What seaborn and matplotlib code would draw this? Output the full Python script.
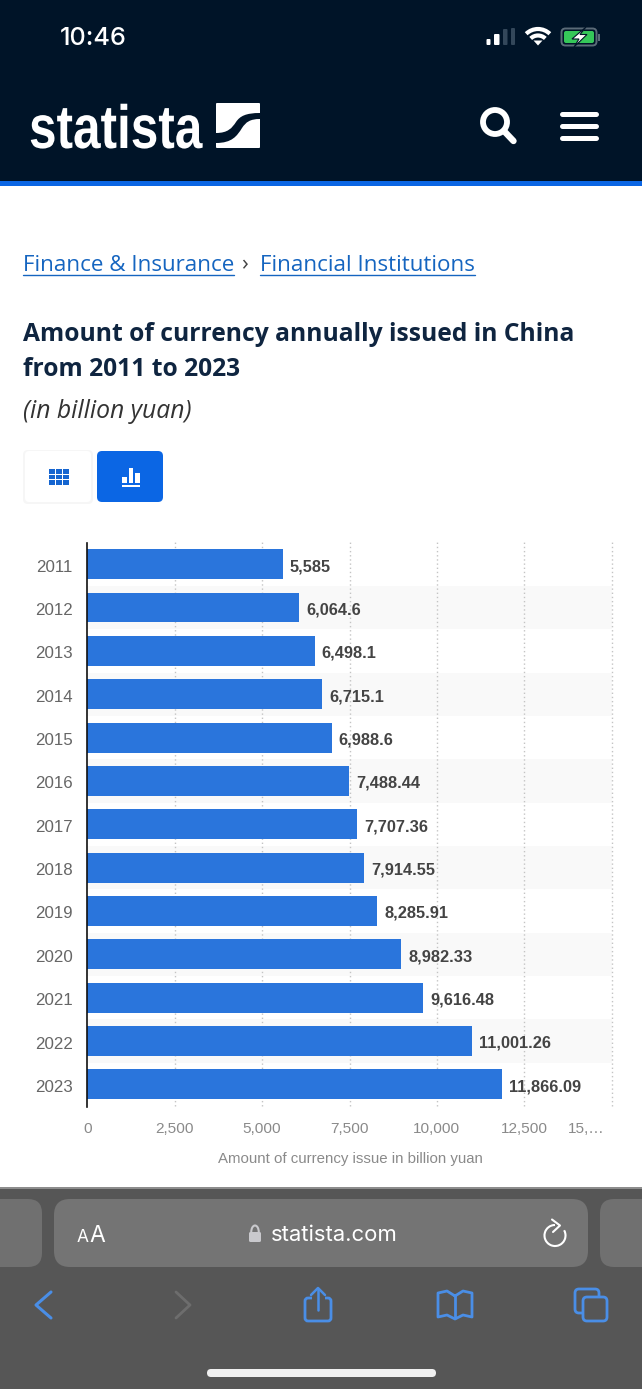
import matplotlib
matplotlib.use("Agg")
import matplotlib.pyplot as plt
from matplotlib.patches import FancyBboxPatch, Rectangle, Circle, Arc, Polygon, PathPatch
from matplotlib.patheffects import AbstractPathEffect
from matplotlib.path import Path
from matplotlib.transforms import Affine2D, ScaledTranslation
import pandas as pd
import seaborn as sns

years = ["2011", "2012", "2013", "2014", "2015", "2016", "2017", "2018", "2019", "2020", "2021", "2022", "2023"]
issued = [5585, 6064.6, 6498.1, 6715.1, 6988.6, 7488.44, 7707.36, 7914.55, 8285.91, 8982.33, 9616.48, 11001.26, 11866.09]
value_labels = ["5,585", "6,064.6", "6,498.1", "6,715.1", "6,988.6", "7,488.44", "7,707.36", "7,914.55",
                "8,285.91", "8,982.33", "9,616.48", "11,001.26", "11,866.09"]
x_ticks = [0, 2500, 5000, 7500, 10000, 12500, 15000]
x_tick_labels = ["0", "2,500", "5,000", "7,500", "10,000", "12,500", "15,…"]

W, H = 642, 1389
NAVY = "#001428"
BLUE = "#0b66e4"
BAR = "#2a75dc"
TOOL_BLUE = "#4a8ee6"

sns.set_theme(style="white")
plt.rcParams["font.family"] = ["Liberation Sans", "DejaVu Sans"]

fig = plt.figure(figsize=(W / 100, H / 100), dpi=100, facecolor="white")

# page layer in pixel coordinates
bg = fig.add_axes([0, 0, 1, 1], zorder=0)
bg.set_xlim(0, W)
bg.set_ylim(H, 0)
bg.axis("off")


class Squeeze(AbstractPathEffect):
    # narrows a text sideways, there is no condensed bold font here
    def __init__(self, x0, sx):
        super().__init__()
        self.x0 = x0
        self.sx = sx

    def draw_path(self, renderer, gc, tpath, affine, rgbFace=None):
        squeeze = Affine2D().translate(-self.x0, 0).scale(self.sx, 1).translate(self.x0, 0)
        renderer.draw_path(gc, tpath, affine + squeeze, rgbFace)


def box(x0, y0, x1, y1, color, r=0, ax=bg, **kw):
    if r:
        p = FancyBboxPatch((x0 + r, y0 + r), x1 - x0 - 2 * r, y1 - y0 - 2 * r,
                           boxstyle=f"round,pad={r},rounding_size={r}", fc=color, ec="none", **kw)
    else:
        p = Rectangle((x0, y0), x1 - x0, y1 - y0, fc=color, ec="none", **kw)
    ax.add_patch(p)
    return p


def stroke(xs, ys, color, lw=2.0):
    bg.plot(xs, ys, color=color, lw=lw, solid_capstyle="round", solid_joinstyle="round")


# ---------------------------------------------------------------
# header
# ---------------------------------------------------------------
box(0, 0, W, 182, NAVY)
box(0, 181, W, 186, BLUE)
bg.text(60, 38.5, "10:46", color="white", fontsize=18.2, family="Inter", fontweight="medium", va="center")

for x0, x1, top, col in [(486.5, 490.5, 39, "white"), (494, 499.5, 34, "white"),
                         (503, 507.5, 29, "#33475a"), (511, 515, 28, "#33475a")]:
    box(x0, top, x1, 45, col, r=1)

# wifi
for d, lw in [(34, 3.0), (21, 3.0)]:
    bg.add_patch(Arc((538, 46), d, d, theta1=226, theta2=314, color="white", lw=lw))
bg.add_patch(Polygon([[538, 45.5], [533.5, 40.5], [542.5, 40.5]], fc="white", ec="none"))

# battery
bg.add_patch(FancyBboxPatch((563, 30), 32, 14, boxstyle="round,pad=1.5,rounding_size=4", fc="none", ec="#5b6b78", lw=1.4))
box(564, 31, 594, 43, "#35c759", r=2)
box(598, 33.5, 599.5, 40.5, "#5b6b78")
bg.add_patch(Polygon([[586, 27], [572, 39], [579, 39], [574, 47], [587, 34.5], [580, 34.5]], fc="white", ec=NAVY, lw=0.8))

# logo
logo = bg.text(29, 148, "statista", color="white", fontsize=44, fontweight="bold", va="baseline")
logo.set_path_effects([Squeeze(29, 0.81)])
box(216, 103, 260, 148, "white", r=1)
s_curve = Path([(216, 133), (228, 133), (232, 128), (236, 122), (240, 116), (246, 113), (260, 113),
                (260, 119), (250, 119), (246, 122), (242, 128), (237, 136), (232, 143), (216, 143), (216, 133)],
               [Path.MOVETO, Path.CURVE4, Path.CURVE4, Path.CURVE4, Path.CURVE4, Path.CURVE4, Path.CURVE4,
                Path.LINETO, Path.CURVE4, Path.CURVE4, Path.CURVE4, Path.CURVE4, Path.CURVE4, Path.CURVE4, Path.CLOSEPOLY])
bg.add_patch(PathPatch(s_curve, fc=NAVY, ec="none"))

# search and menu
bg.add_patch(Circle((495, 122), 12, fc="none", ec="white", lw=4.2))
stroke([504, 513.5], [131, 141], "white", 4.6)
for y in (114, 126, 138):
    stroke([562, 596], [y, y], "white", 3.6)

# ---------------------------------------------------------------
# page text
# ---------------------------------------------------------------
LINK = "#1565c0"
crumb = dict(color=LINK, fontsize=16.15, family="Open Sans", va="baseline")
bg.text(23, 271, "Finance & Insurance", **crumb)
bg.plot([23, 234], [274.5, 274.5], color=LINK, lw=1)
bg.text(241, 270, "›", color="#444444", fontsize=16, family="Open Sans", va="baseline")
bg.text(260, 271, "Financial Institutions", **crumb)
bg.plot([260, 475], [274.5, 274.5], color=LINK, lw=1)

bg.text(23, 341, "Amount of currency annually issued in China", color="#0f2540", fontsize=17.78,
        family="Open Sans", fontweight="bold", va="baseline")
bg.text(23, 376, "from 2011 to 2023", color="#0f2540", fontsize=17.78, family="Open Sans", fontweight="bold", va="baseline")
bg.text(23, 418, "(in billion yuan)", color="#333333", fontsize=17.8, family="Open Sans", style="italic", va="baseline")

# view buttons
box(23, 450, 93, 504, "#f6f6f6", r=5)
box(25, 451, 91, 502, "white", r=4)
box(97, 451, 163, 502, BLUE, r=5)
for cx in (49, 56, 63):
    for cy in (469, 474.5, 480):
        box(cx, cy, cx + 5.5, cy + 4.5, "#1565d0")
box(122, 477, 127, 483, "white")
box(129, 468, 133, 483, "white")
box(135, 473, 140, 483, "white")
box(122, 485, 140, 486.5, "white")

# ---------------------------------------------------------------
# chart
# ---------------------------------------------------------------
df = pd.DataFrame({"year": years, "issued": issued})
AX_L, AX_R, AX_T, AX_B = 87.5, 611.5, 542.5, 1106
ax = fig.add_axes([AX_L / W, 1 - AX_B / H, (AX_R - AX_L) / W, (AX_B - AX_T) / H], zorder=1)
ax.patch.set_alpha(0)

for i in range(1, len(years), 2):
    ax.axhspan(i - 0.5, i + 0.5, color="#f9f9f9", lw=0, zorder=0)
for t in x_ticks[1:]:
    ax.axvline(t, color="#c4c4c4", lw=1, ls=(0, (1, 2)), zorder=0.5, clip_on=False)

sns.barplot(data=df, x="issued", y="year", orient="h", color=BAR, saturation=1, width=0.69, linewidth=0, ax=ax, zorder=2)
ax.set_xlim(0, 15000)
ax.set_ylim(len(years) - 0.5, -0.5)

for i, (v, lab) in enumerate(zip(issued, value_labels)):
    ax.annotate(lab, (v, i), xytext=(5.2, -0.7), textcoords="offset points", va="center_baseline", ha="left",
                fontsize=11.8, fontweight="bold", color="#444444")

for side in ("top", "right", "bottom"):
    ax.spines[side].set_visible(False)
ax.spines["left"].set_color("#111111")
ax.spines["left"].set_linewidth(1.2)
ax.spines["left"].set_zorder(3)
ax.spines["left"].set_bounds(-0.48, 12.52)

ax.set_xticks(x_ticks)
ax.set_xticklabels(x_tick_labels)
ax.tick_params(axis="x", length=0, pad=11.7, labelsize=11.1, labelcolor="#8a8a8a")
last = ax.get_xticklabels()[-1]
last.set_transform(last.get_transform() + ScaledTranslation(-18.5 / 72, 0, fig.dpi_scale_trans))
ax.tick_params(axis="y", length=0, pad=10.5, labelsize=12.2, labelcolor="#666666")
for lab in ax.get_yticklabels():
    lab.set_transform(lab.get_transform() + ScaledTranslation(0, -1.1 / 72, fig.dpi_scale_trans))
ax.set_ylabel("")
ax.set_xlabel("Amount of currency issue in billion yuan", fontsize=10.8, color="#8a8a8a")
ax.xaxis.set_label_coords((350 - AX_L) / (AX_R - AX_L), -(1152 - AX_B) / (AX_B - AX_T), transform=ax.transAxes)

# ---------------------------------------------------------------
# browser toolbar
# ---------------------------------------------------------------
box(0, 1187, W, H, "#565656")
box(0, 1187, W, 1188.5, "#8d8d8d")
box(-30, 1199, 42, 1267, "#707070", r=14)
box(54, 1199, 588, 1267, "#747474", r=16)
box(600, 1199, 680, 1267, "#707070", r=14)

bg.text(77, 1242.5, "A", color="white", fontsize=12.5, family="Inter", va="baseline")
bg.text(89, 1242.5, "A", color="white", fontsize=16.5, family="Inter", va="baseline")
box(249, 1232, 261, 1242, "#c9c9cd", r=1.5)
bg.add_patch(Arc((255, 1232), 7.5, 13, theta1=180, theta2=360, color="#c9c9cd", lw=1.5))
bg.text(271, 1241, "statista.com", color="white", fontsize=15.9, family="Inter", va="baseline")

bg.add_patch(Arc((555, 1235.5), 21, 21, theta1=-30, theta2=270, color="white", lw=1.5))
stroke([552, 560, 553], [1219.5, 1225.5, 1232], "white", 1.5)

stroke([51, 36, 51], [1292, 1305, 1318], TOOL_BLUE, 2.2)
stroke([176, 190, 176], [1292, 1305, 1318], "#6d6d6d", 2.0)

# share
bg.add_patch(FancyBboxPatch((305, 1298), 26, 23, boxstyle="round,pad=0,rounding_size=3", fc="none", ec=TOOL_BLUE, lw=2))
box(312, 1295, 325, 1301, "#565656")
stroke([318, 318], [1289, 1310], TOOL_BLUE, 1.8)
stroke([311, 318, 325], [1295, 1288, 1295], TOOL_BLUE, 1.8)

# book
stroke([455, 447, 438, 438, 447, 455, 463, 472, 472, 463, 455], [1296, 1291, 1293, 1317, 1315, 1319, 1315, 1317, 1293, 1291, 1296],
       TOOL_BLUE, 2)
stroke([455, 455], [1296, 1318], TOOL_BLUE, 2)

# tabs
bg.add_patch(FancyBboxPatch((575, 1289), 24, 24, boxstyle="round,pad=0,rounding_size=4", fc="none", ec=TOOL_BLUE, lw=2))
bg.add_patch(FancyBboxPatch((583, 1297), 24, 24, boxstyle="round,pad=0,rounding_size=4", fc="#565656", ec=TOOL_BLUE, lw=2))

box(207, 1369, 436, 1377, "#f0f0f0", r=4)

fig.savefig("out.png", dpi=100)
